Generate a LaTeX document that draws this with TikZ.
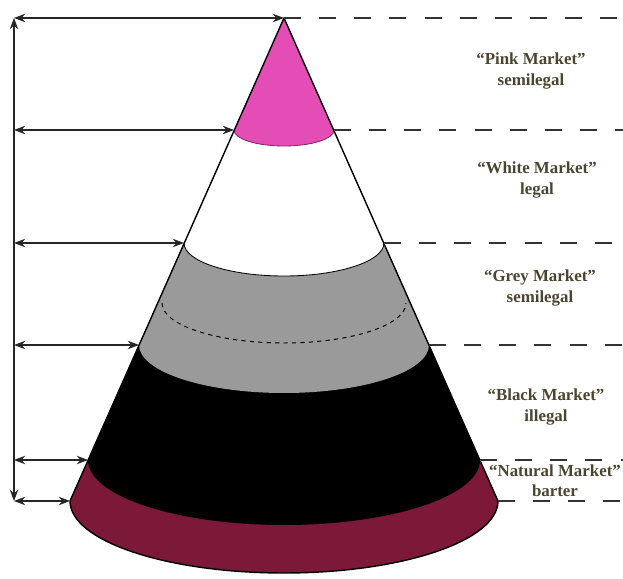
\documentclass[tikz,border=0pt]{standalone}
\usepackage{fontspec}
\setmainfont{Liberation Serif}
\usetikzlibrary{arrows.meta}
\definecolor{pinkband}{HTML}{E44CB6}
\definecolor{greyband}{HTML}{9A9A9A}
\definecolor{maroonband}{HTML}{7C1838}
\definecolor{labelcolor}{HTML}{4A4530}

\begin{document}
\begin{tikzpicture}[
    x=0.025cm, y=0.025cm,
    edge/.style={draw=black, line width=1pt, line join=round},
    dimarrow/.style={{Stealth[length=8pt,width=6pt]}-{Stealth[length=8pt,width=6pt]}, line width=0.8pt, black!85},
    guide/.style={dash pattern=on 12pt off 13pt, line width=0.8pt, black!80},
    mlabel/.style={font=\fontsize{12}{14.5}\selectfont\bfseries, text=labelcolor, align=center},
]

\useasboundingbox (0,0) rectangle (623,578);

\def\cx{284}
\def\ax{14}

% apex and the levels where the bands meet
\coordinate (apex) at (\cx, 560);
\coordinate (m0) at (\ax, 560);
\coordinate (e0) at (623, 560);
\foreach \n/\yy/\w in {1/448/50, 2/335/100, 3/233/145, 4/118/196, 5/77/214}{
    \coordinate (l\n) at ({\cx-\w}, \yy);
    \coordinate (r\n) at ({\cx+\w}, \yy);
    \coordinate (m\n) at (\ax, \yy);
    \coordinate (e\n) at (623, \yy);
}

% the bands, painted from the base up
\foreach \n/\w/\b/\c in {5/214/72/maroonband, 4/196/65/black, 3/145/48/greyband,
                          2/100/33/white, 1/50/16/pinkband}{
    \fill[\c] (apex) -- (l\n) arc[start angle=180, end angle=360, x radius=\w, y radius=\b] -- cycle;
}

% band edges
\draw[pinkband!55!black, line width=0.6pt]
    (l1) arc[start angle=180, end angle=360, x radius=50, y radius=16];
\draw[line width=0.6pt]
    (l2) arc[start angle=180, end angle=360, x radius=100, y radius=33];
\draw[dashed, line width=0.7pt]
    ({\cx-122}, 275) arc[start angle=180, end angle=360, x radius=122, y radius=40];

% the cone
\draw[edge] (apex) -- (l5) arc[start angle=180, end angle=360, x radius=214, y radius=72] -- cycle;

% height marks on the left
\draw[dimarrow] (m0) -- (m5);
\draw[dimarrow] (m0) -- (apex);
\foreach \n in {1,...,5}{
    \draw[dimarrow] (m\n) -- (l\n);
}

% level lines on the right
\draw[guide] (apex) -- (e0);
\foreach \n in {1,...,5}{
    \draw[guide] (r\n) -- (e\n);
}

% market names
\node[mlabel] (pink) at (531, 507) {``Pink Market''\\semilegal};
\node[mlabel] (white) at (537, 398) {``White Market''\\legal};
\node[mlabel] (grey) at (540, 290) {``Grey Market''\\semilegal};
\node[mlabel] (black) at (546, 171) {``Black Market''\\illegal};
\node[mlabel] (natural) at (555, 97) {``Natural Market''\\barter};

\end{tikzpicture}
\end{document}
